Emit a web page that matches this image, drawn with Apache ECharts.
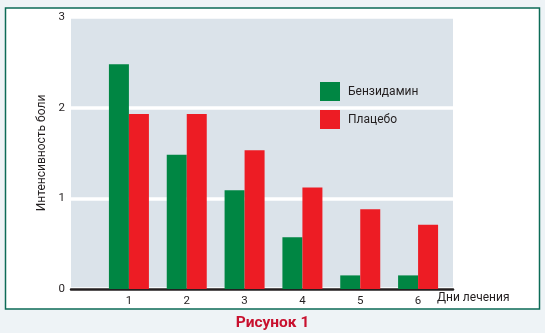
<!DOCTYPE html>
<html>
<head>
<meta charset="utf-8">
<script src="https://cdn.jsdelivr.net/npm/echarts@6/dist/echarts.min.js"></script>
<style>
html,body{margin:0;padding:0;background:#eef3f6;}
#chart{width:545px;height:333px;}
</style>
</head>
<body>
<div id="chart"></div>
<script>
var days = ['1', '2', '3', '4', '5', '6'];
var benzydamine = [2.48, 1.48, 1.09, 0.57, 0.15, 0.15];
var placebo = [1.93, 1.93, 1.53, 1.12, 0.88, 0.71];
var seriesNames = ['Бензидамин', 'Плацебо'];
var yTicks = [0, 1, 2, 3];

var chart = echarts.init(document.getElementById('chart'), null, {renderer: 'canvas'});
var font = 'Roboto, Noto Sans, sans-serif';
chart.setOption({
  backgroundColor: 'transparent',
  animation: false,
  textStyle: {fontFamily: font},
  graphic: [
    {type: 'rect', z: -10, shape: {x: 5.5, y: 8, width: 534, height: 301},
     style: {fill: '#ffffff', stroke: '#0d6b57', lineWidth: 1.5}},
    {type: 'text', left: 437, top: 292, z: 10,
     style: {text: 'Дни лечения', fontSize: 12, fill: '#231f20', fontFamily: font}}
  ],
  title: {
    text: 'Рисунок 1', left: 'center', top: 315, padding: [0, 0, 0, 0],
    textStyle: {fontSize: 15.5, fontWeight: 'bold', color: '#c8102e', fontFamily: font}
  },
  legend: {
    orient: 'vertical', left: 320, top: 82, padding: 0,
    itemWidth: 20, itemHeight: 19, itemGap: 9,
    icon: 'rect',
    textStyle: {fontSize: 12, color: '#231f20', padding: [0, 0, 0, 3]},
    data: seriesNames
  },
  grid: [
    {left: 71, width: 382, top: 17, height: 272, show: true,
     backgroundColor: '#dbe3ea', borderWidth: 0},
    {left: 100, width: 347, top: 17, height: 272}
  ],
  xAxis: [
    {gridIndex: 0, type: 'value', min: 0, max: 1, offset: 3,
     axisLine: {show: true, lineStyle: {color: '#231f20', width: 2.5}},
     axisTick: {show: false}, axisLabel: {show: false}, splitLine: {show: false}},
    {gridIndex: 1, type: 'category', data: days,
     axisLine: {show: false}, axisTick: {show: false},
     axisLabel: {fontSize: 11.5, color: '#231f20', margin: 6}}
  ],
  yAxis: [
    {gridIndex: 0, type: 'value', min: yTicks[0], max: yTicks[yTicks.length - 1], interval: 1,
     name: 'Интенсивность боли', nameLocation: 'middle', nameGap: 22,
     nameTextStyle: {fontSize: 12, color: '#231f20'},
     axisLine: {show: false}, axisTick: {show: false},
     axisLabel: {fontSize: 11.5, color: '#231f20', margin: 6},
     splitLine: {show: true, lineStyle: {color: '#ffffff', width: 3.5}}},
    {gridIndex: 1, type: 'value', min: 0, max: 3, show: false}
  ],
  series: [
    {name: seriesNames[0], type: 'bar', xAxisIndex: 1, yAxisIndex: 1,
     data: benzydamine, barWidth: 20, barGap: '0%',
     itemStyle: {color: '#008643'}},
    {name: seriesNames[1], type: 'bar', xAxisIndex: 1, yAxisIndex: 1,
     data: placebo, barWidth: 20, barGap: '0%',
     itemStyle: {color: '#ed1c24'}}
  ]
});
</script>
</body>
</html>
